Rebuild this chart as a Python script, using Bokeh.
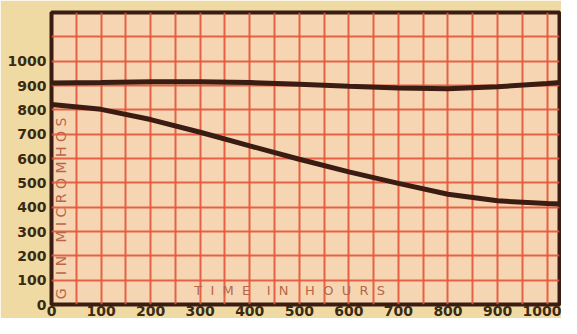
from bokeh.plotting import figure
from bokeh.models import Range1d, FixedTicker, Label
from bokeh.embed import file_html
from bokeh.resources import INLINE

# Data
hours = [0, 100, 200, 300, 400, 500, 600, 700, 800, 900, 1000, 1040]
g_upper = [910, 912, 915, 915, 912, 905, 897, 890, 887, 895, 908, 915]
g_lower = [822, 802, 760, 708, 652, 597, 545, 498, 453, 426, 415, 412]

x_ticks = [0, 100, 200, 300, 400, 500, 600, 700, 800, 900, 1000]
y_ticks = [0, 100, 200, 300, 400, 500, 600, 700, 800, 900, 1000]
x_grid = list(range(50, 1025, 50))
y_grid = list(range(100, 1200, 100))

ink = "#3b1c12"
p = figure(width=561, height=318, output_backend="svg", toolbar_location=None,
           x_range=Range1d(0, 1025), y_range=Range1d(0, 1200),
           min_border_left=51, min_border_top=12, min_border_right=2, min_border_bottom=0)

p.background_fill_color = "#f6d6b2"
p.border_fill_color = "#f0daa4"
p.outline_line_color = ink
p.outline_line_width = 4

p.xgrid.ticker = FixedTicker(ticks=x_grid)
p.ygrid.ticker = FixedTicker(ticks=y_grid)
for g in (p.xgrid, p.ygrid):
    g.grid_line_color = "#e4553a"
    g.grid_line_width = 2
    g.grid_line_alpha = 0.9

p.xaxis.ticker = FixedTicker(ticks=x_ticks)
p.yaxis.ticker = FixedTicker(ticks=y_ticks)
for ax in (p.xaxis, p.yaxis):
    ax.axis_line_color = None
    ax.major_tick_line_color = None
    ax.minor_tick_line_color = None
    ax.major_label_text_font = "DejaVu Sans"
    ax.major_label_text_font_style = "bold"
    ax.major_label_text_font_size = "14px"
    ax.major_label_text_color = "#3a2a12"
    ax.major_tick_out = 0
    ax.major_tick_in = 0
p.xaxis.major_label_standoff = 1
p.yaxis.major_label_standoff = 5

p.line(hours, g_upper, line_color=ink, line_width=5)
p.line(hours, g_lower, line_color=ink, line_width=5)

nb = "\u00a0"
def spaced(s, inner, outer):
    return (nb * outer).join((nb * inner).join(list(w)) for w in s.split(" "))

lab_col = "#b8664a"
p.add_layout(Label(x=288, y=28, text=spaced("TIME IN HOURS", 2, 4),
                   text_font="DejaVu Sans", text_font_size="13px",
                   text_color=lab_col))
p.add_layout(Label(x=36, y=22, text=spaced("G IN MICROMHOS", 1, 3), angle=1.5708,
                   text_font="DejaVu Sans", text_font_size="14px",
                   text_color=lab_col))

open("out.html", "w").write(file_html(p, INLINE))
